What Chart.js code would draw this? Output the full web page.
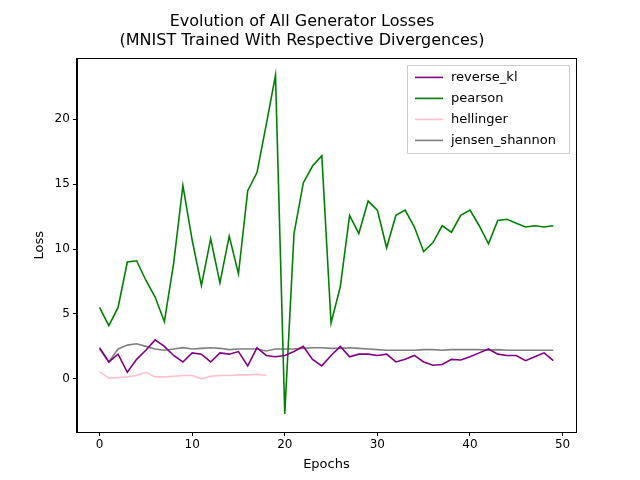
<!DOCTYPE html>
<html><head><meta charset="utf-8">
<script src="https://cdn.jsdelivr.net/npm/chart.js@4.4.0/dist/chart.umd.min.js"></script>
<style>body{margin:0;background:#fff}#wrap{width:640px;height:480px}</style>
</head><body><div id="wrap"><canvas id="c"></canvas></div>
<script>
var epochs = [];
for (var i = 0; i < 50; i++) epochs.push(i);
var reverseKl = [2.4,1.3,1.9,0.5,1.5,2.2,3.0,2.5,1.8,1.3,2.0,1.9,1.3,2.0,1.9,2.1,1.0,2.4,1.8,1.7,1.8,2.1,2.5,1.5,1.0,1.8,2.5,1.7,1.9,1.9,1.8,1.9,1.3,1.5,1.8,1.3,1.05,1.1,1.5,1.45,1.7,2.0,2.3,1.9,1.8,1.8,1.4,1.7,2.0,1.4];
var pearson = [5.5,4.1,5.5,9.0,9.1,7.6,6.3,4.4,8.9,14.9,10.7,7.2,10.8,7.4,11.0,8.1,14.5,15.9,19.6,23.4,-2.7,11.2,15.1,16.4,17.2,4.3,7.1,12.6,11.2,13.7,13.0,10.1,12.6,13.0,11.7,9.8,10.5,11.8,11.3,12.6,13.0,11.8,10.4,12.2,12.3,12.0,11.7,11.8,11.7,11.8];
var hellinger = [0.55,0.05,0.1,0.15,0.25,0.5,0.15,0.15,0.2,0.25,0.25,0.0,0.2,0.25,0.25,0.3,0.3,0.35,0.25];
var jensenShannon = [2.3,1.3,2.3,2.6,2.7,2.5,2.3,2.2,2.3,2.4,2.3,2.35,2.4,2.35,2.25,2.3,2.3,2.3,2.15,2.3,2.3,2.3,2.35,2.4,2.4,2.35,2.35,2.4,2.35,2.3,2.25,2.2,2.2,2.2,2.2,2.25,2.25,2.2,2.25,2.25,2.25,2.25,2.2,2.25,2.2,2.2,2.2,2.2,2.2,2.2];
var xTicks = [0,10,20,30,40,50];
var yTicks = [0,5,10,15,20];

function pts(arr){ return arr.map(function(v,i){ return {x:i, y:v}; }); }
function ds(label, arr, color){
  return {label:label, data:pts(arr), borderColor:color, backgroundColor:color, borderWidth:1.6, pointRadius:0, tension:0};
}

var frameAndLegend = {
  id:'frameAndLegend',
  afterDraw:function(chart){
    var ctx = chart.ctx, a = chart.chartArea;
    ctx.save();
    ctx.strokeStyle = '#000'; ctx.lineWidth = 1;
    ctx.strokeRect(Math.round(a.left)+0.5, Math.round(a.top)+0.5, Math.round(a.right-a.left), Math.round(a.bottom-a.top));
    var w = 162, h = 88, x = a.right - w - 7, y = a.top + 7;
    ctx.fillStyle = 'rgba(255,255,255,0.8)';
    ctx.strokeStyle = '#cccccc';
    ctx.beginPath(); ctx.rect(Math.round(x)+0.5, Math.round(y)+0.5, w, h); ctx.fill(); ctx.stroke();
    ctx.font = '13px "DejaVu Sans"';
    ctx.textBaseline = 'middle';
    chart.data.datasets.forEach(function(d, i){
      var ly = y + 12 + i * 21;
      ctx.strokeStyle = d.borderColor; ctx.lineWidth = 1.6;
      ctx.beginPath(); ctx.moveTo(x+8, ly); ctx.lineTo(x+36, ly); ctx.stroke();
      ctx.fillStyle = '#000'; ctx.fillText(d.label, x+44, ly);
    });
    ctx.restore();
  }
};

var tickGrid = {display:true, drawOnChartArea:false, drawTicks:true, tickLength:4, color:'#000'};

new Chart(document.getElementById('c'), {
  type:'line',
  data:{datasets:[
    ds('reverse_kl', reverseKl, 'purple'),
    ds('pearson', pearson, 'green'),
    ds('hellinger', hellinger, 'pink'),
    ds('jensen_shannon', jensenShannon, 'gray')
  ]},
  options:{
    responsive:true, maintainAspectRatio:false, animation:false,
    layout:{padding:{left:28, right:64, top:8, bottom:4}},
    plugins:{
      legend:{display:false},
      tooltip:{enabled:false},
      title:{display:true, text:['Evolution of All Generator Losses','(MNIST Trained With Respective Divergences)'],
        color:'#000', font:{family:'DejaVu Sans', size:16, weight:'normal'}, padding:{top:4, bottom:8}}
    },
    scales:{
      x:{type:'linear', min:-2.45, max:51.45,
        afterBuildTicks:function(s){ s.ticks = xTicks.map(function(v){return {value:v};}); },
        grid:tickGrid,
        border:{color:'#000'},
        ticks:{color:'#000', font:{family:'DejaVu Sans', size:12}, padding:2},
        title:{display:true, text:'Epochs', color:'#000', font:{family:'DejaVu Sans', size:13}, padding:{top:2}}
      },
      y:{type:'linear', min:-4.1, max:24.7,
        afterBuildTicks:function(s){ s.ticks = yTicks.map(function(v){return {value:v};}); },
        grid:tickGrid,
        border:{color:'#000'},
        ticks:{color:'#000', font:{family:'DejaVu Sans', size:12}, padding:3},
        title:{display:true, text:'Loss', color:'#000', font:{family:'DejaVu Sans', size:13}}
      }
    }
  },
  plugins:[frameAndLegend]
});
</script></body></html>
